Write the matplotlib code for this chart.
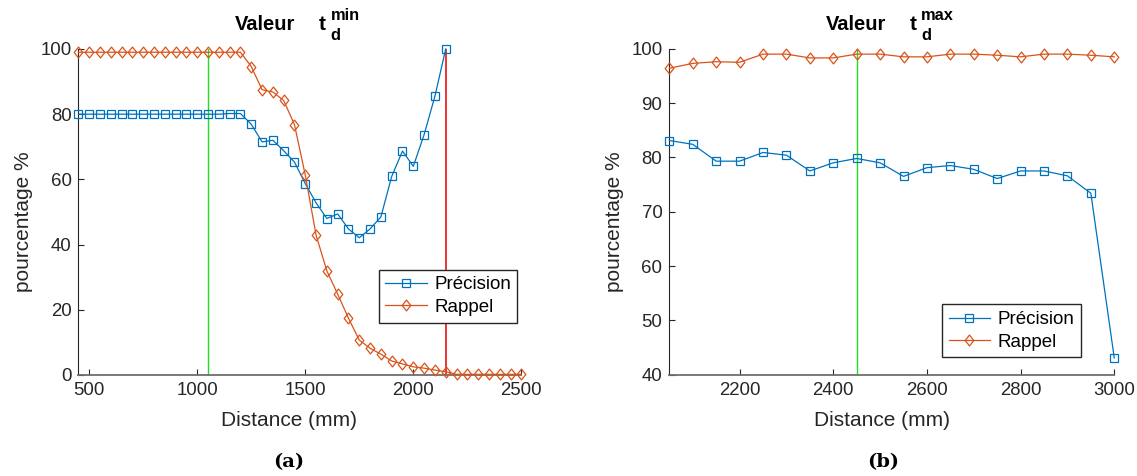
import numpy as np
import matplotlib
matplotlib.use("Agg")
import matplotlib.pyplot as plt
from matplotlib.path import Path

plt.rcParams['font.family'] = ['Liberation Sans', 'DejaVu Sans']

# --- données (a) : t_d min ---
dist_a = np.arange(450, 2501, 50)
prec_a = [80, 80, 80, 80, 80, 80, 80, 80, 80, 80, 80, 80, 80, 80, 80.2, 80.2,
          76.9, 71.5, 72.0, 68.8, 65.3, 58.7, 52.8, 48.0, 49.4, 44.8, 42.1,
          44.8, 48.5, 60.9, 68.7, 64.0, 73.7, 85.5, 100]
prec_a = prec_a + [np.nan] * (len(dist_a) - len(prec_a))
rapp_a = [99, 99, 99, 99, 99, 99, 99, 99, 99, 99, 99, 99, 99, 99, 99, 99,
          94.6, 87.5, 86.8, 84.2, 76.8, 61.3, 42.9, 31.9, 24.8, 17.4, 10.7,
          8.2, 6.4, 4.3, 3.4, 2.5, 2.1, 1.5, 1.0, 0.2, 0.2, 0.2, 0.2, 0.2, 0.2, 0.2]
seuil_vert_a = 1050
seuil_rouge_a = 2150

# --- données (b) : t_d max ---
dist_b = np.arange(2050, 3001, 50)
prec_b = [83.1, 82.4, 79.3, 79.3, 80.9, 80.4, 77.5, 79.0, 79.8, 79.0,
          76.5, 78.1, 78.5, 77.8, 76.1, 77.5, 77.5, 76.6, 73.4, 43.1]
rapp_b = [96.4, 97.3, 97.6, 97.5, 99.0, 99.0, 98.3, 98.3, 99.0, 99.0,
          98.5, 98.5, 99.0, 99.0, 98.8, 98.5, 99.0, 99.0, 98.8, 98.5]
seuil_vert_b = 2450
seuil_rouge_b = 2050

bleu = '#0072BD'
orange = '#D95319'
gris = '#262626'
W, H = 1137, 476

# losange un peu plus haut que large, comme matlab
losange = Path([(0, 1), (0.8, 0), (0, -1), (-0.8, 0), (0, 1)],
               [Path.MOVETO, Path.LINETO, Path.LINETO, Path.LINETO, Path.CLOSEPOLY])

fig = plt.figure(figsize=(W / 100, H / 100), dpi=100)
ax1 = fig.add_axes([0.0690, 0.2122, 0.3895, 0.6849])
ax2 = fig.add_axes([0.5887, 0.2128, 0.3913, 0.6849])


def trace(ax, x, prec, rapp, vert, rouge, ylim, yticks, xticks, xlim, leg_pos, xlab_x):
    ax.plot([vert, vert], ylim, color='#22dd22', lw=1.0, zorder=1)
    ax.plot([rouge, rouge], ylim, color='#ee1111', lw=1.2, zorder=1)
    ax.plot(x, prec, color=bleu, lw=0.9, marker='s', ms=5.2, mfc='none',
            mec=bleu, mew=0.9, label='Précision', zorder=3, clip_on=False)
    ax.plot(x, rapp, color=orange, lw=0.9, marker=losange, ms=7.8, mfc='none',
            mec=orange, mew=0.9, label='Rappel', zorder=3, clip_on=False)
    ax.set_xlim(xlim)
    ax.set_ylim(ylim)
    ax.set_xticks(xticks)
    ax.set_yticks(yticks)
    ax.spines['top'].set_visible(False)
    ax.spines['right'].set_visible(False)
    ax.spines['left'].set_color(gris)
    ax.spines['bottom'].set_color('#6e6e6e')
    ax.spines['bottom'].set_linewidth(1.3)
    ax.tick_params(direction='in', length=4, width=0.8, colors=gris,
                   labelsize=13.4, pad=5)
    ax.set_xlabel('Distance (mm)', fontsize=15, color=gris, labelpad=9)
    ax.xaxis.label.set_x(xlab_x)
    ax.set_ylabel('pourcentage %', fontsize=15, color=gris, labelpad=5)
    ax.yaxis.label.set_y(0.47)
    leg = ax.legend(loc='lower left', bbox_to_anchor=leg_pos, borderaxespad=0,
                    fontsize=13.5, fancybox=False, framealpha=1,
                    edgecolor=gris, handlelength=2.2, handletextpad=0.4,
                    borderpad=0.35, labelspacing=0.3)
    leg.get_frame().set_linewidth(1.0)


def titre(x0, sup):
    # "Valeur  t" avec indice d et exposant empilés
    fig.text(x0 / W, 1 - 30 / H, 'Valeur', fontsize=14.5, fontweight='bold',
             ha='left', va='baseline')
    fig.text((x0 + 84) / W, 1 - 29.5 / H, 't', fontsize=15, fontweight='bold',
             ha='left', va='baseline')
    fig.text((x0 + 95.5) / W, 1 - 19.5 / H, sup, fontsize=11.8, fontweight='bold',
             ha='left', va='baseline')
    fig.text((x0 + 95.5) / W, 1 - 39.5 / H, 'd', fontsize=11.8, fontweight='bold',
             ha='left', va='baseline')


trace(ax1, dist_a, prec_a, rapp_a, seuil_vert_a, seuil_rouge_a,
      (0, 100), np.arange(0, 101, 20), np.arange(500, 2501, 500), (450, 2500),
      (0.678, 0.161), 0.4765)
trace(ax2, dist_b, prec_b, rapp_b, seuil_vert_b, seuil_rouge_b,
      (40, 100), np.arange(40, 101, 10), np.arange(2200, 3001, 200), (2050, 3000),
      (0.613, 0.053), 0.478)
titre(235, 'min')
titre(825.5, 'max')

fig.text(289 / W, 1 - 462 / H, '(a)', family='DejaVu Serif', fontweight='bold',
         fontsize=14, ha='center', va='center')
fig.text(883 / W, 1 - 462 / H, '(b)', family='DejaVu Serif', fontweight='bold',
         fontsize=14, ha='center', va='center')

fig.savefig('out.png', dpi=100)
